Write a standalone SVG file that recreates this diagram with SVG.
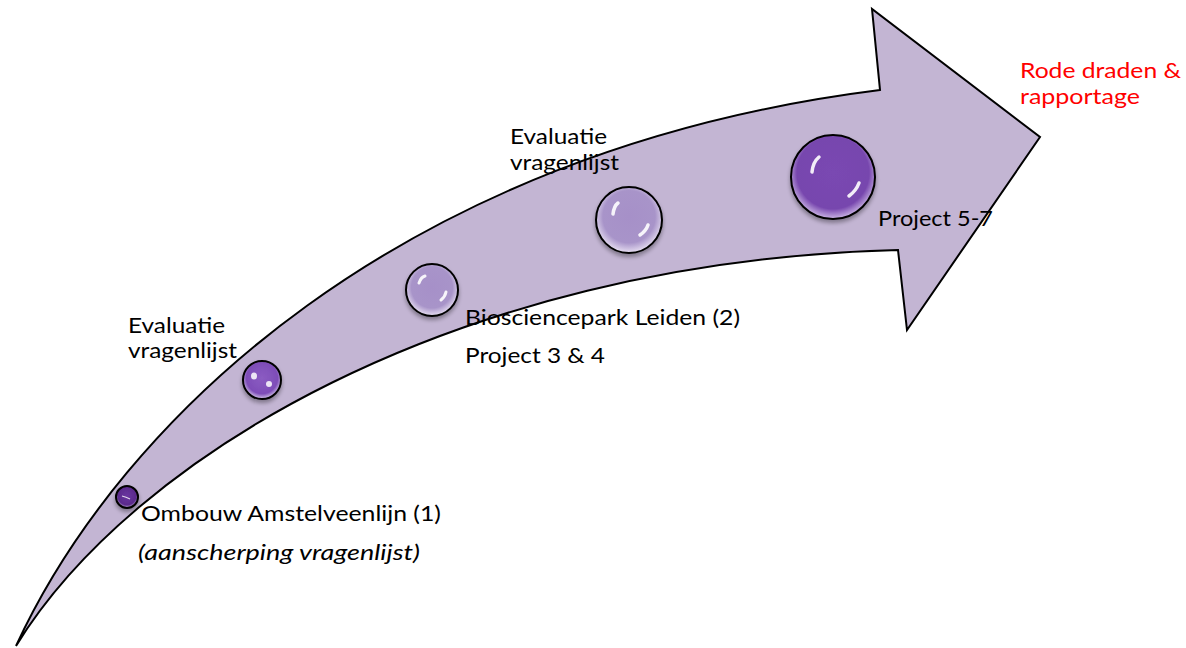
<svg xmlns="http://www.w3.org/2000/svg" width="1186" height="648" viewBox="0 0 1186 648">
<style>
text{font-family:Lato,"Open Sans","Liberation Sans",sans-serif;font-size:21px;fill:#000}
.red{fill:#ff0000}
.it{font-style:italic}
.ring{stroke:#000;stroke-width:2}
.hl{fill:#fff;opacity:0.85}
</style>
<defs>
<radialGradient id="gDark" cx="50%" cy="45%" r="55%">
<stop offset="0" stop-color="#6a35a0"/><stop offset="0.75" stop-color="#5a2a8c"/><stop offset="1" stop-color="#c9b6e0"/>
</radialGradient>
<radialGradient id="gMid" cx="50%" cy="45%" r="55%">
<stop offset="0" stop-color="#8b5cc2"/><stop offset="0.75" stop-color="#7e4db8"/><stop offset="1" stop-color="#d6c8ea"/>
</radialGradient>
<radialGradient id="gLight" cx="50%" cy="45%" r="55%">
<stop offset="0" stop-color="#a690c8"/><stop offset="0.72" stop-color="#a894c9"/><stop offset="1" stop-color="#e8e0f2"/>
</radialGradient>
<radialGradient id="gBig" cx="50%" cy="45%" r="55%">
<stop offset="0" stop-color="#7a48b2"/><stop offset="0.78" stop-color="#7746ae"/><stop offset="1" stop-color="#cdb8e6"/>
</radialGradient>
<filter id="sh" x="-30%" y="-30%" width="160%" height="170%">
<feGaussianBlur in="SourceAlpha" stdDeviation="2"/><feOffset dy="3"/>
<feComponentTransfer><feFuncA type="linear" slope="0.35"/></feComponentTransfer>
<feMerge><feMergeNode/><feMergeNode in="SourceGraphic"/></feMerge>
</filter>
</defs>
<g id="arrow">
<path d="M16,646 C120,420 400,150 880,90 L872,9 L1040,137 L907,330 L898,250 C450,262 130,460 16,646 Z" fill="#c3b5d3" stroke="#000" stroke-width="2" stroke-linejoin="miter"/>
</g>
<g id="connectors"></g>
<g id="node1">
<circle cx="127" cy="497" r="11" fill="url(#gDark)" class="ring" filter="url(#sh)"/>
<path d="M122,496 Q126,497 130,499" stroke="#fff" stroke-width="1.2" fill="none" opacity="0.8"/>
<text x="141" y="521" textLength="300" lengthAdjust="spacingAndGlyphs">Ombouw Amstelveenlijn (1)</text>
<text x="138" y="560" class="it" textLength="282" lengthAdjust="spacingAndGlyphs">(aanscherping vragenlijst)</text>
</g>
<g id="label-eval1">
<text x="128" y="333" textLength="97" lengthAdjust="spacingAndGlyphs">Evaluatie</text>
<text x="128" y="358" textLength="109" lengthAdjust="spacingAndGlyphs">vragenlijst</text>
</g>
<g id="node2">
<circle cx="262" cy="380" r="19" fill="url(#gMid)" class="ring" filter="url(#sh)"/>
<ellipse cx="254" cy="376" rx="3" ry="3.5" class="hl"/>
<ellipse cx="269" cy="384" rx="3" ry="3" class="hl"/>
</g>
<g id="node3">
<circle cx="432" cy="290" r="26" fill="url(#gLight)" class="ring" filter="url(#sh)"/>
<path d="M419,283 Q421,277 425,276" stroke="#fff" stroke-width="3" fill="none" stroke-linecap="round" opacity="0.9"/>
<path d="M441,300 Q445,297 446,292" stroke="#fff" stroke-width="3" fill="none" stroke-linecap="round" opacity="0.9"/>
<text x="465" y="325" textLength="275" lengthAdjust="spacingAndGlyphs">Biosciencepark Leiden (2)</text>
<text x="465" y="363" textLength="140" lengthAdjust="spacingAndGlyphs">Project 3 &amp; 4</text>
</g>
<g id="node4">
<circle cx="629" cy="220" r="33" fill="url(#gLight)" class="ring" filter="url(#sh)"/>
<path d="M613,214 Q614,206 618,203" stroke="#fff" stroke-width="3.5" fill="none" stroke-linecap="round" opacity="0.9"/>
<path d="M640,235 Q646,231 648,225" stroke="#fff" stroke-width="3.5" fill="none" stroke-linecap="round" opacity="0.9"/>
<text x="510" y="144" textLength="97" lengthAdjust="spacingAndGlyphs">Evaluatie</text>
<text x="510" y="170" textLength="109" lengthAdjust="spacingAndGlyphs">vragenlijst</text>
</g>
<g id="node5">
<circle cx="833" cy="177" r="42" fill="url(#gBig)" class="ring" filter="url(#sh)"/>
<path d="M812,172 Q813,162 819,157" stroke="#fff" stroke-width="3.5" fill="none" stroke-linecap="round" opacity="0.9"/>
<path d="M849,196 Q856,191 859,183" stroke="#fff" stroke-width="3.5" fill="none" stroke-linecap="round" opacity="0.9"/>
<text x="878" y="226" textLength="115" lengthAdjust="spacingAndGlyphs">Project 5-7</text>
</g>
<g id="node-end">
<text x="1020" y="78" class="red" textLength="161" lengthAdjust="spacingAndGlyphs">Rode draden &amp;</text>
<text x="1020" y="104" class="red" textLength="120" lengthAdjust="spacingAndGlyphs">rapportage</text>
</g>
</svg>
